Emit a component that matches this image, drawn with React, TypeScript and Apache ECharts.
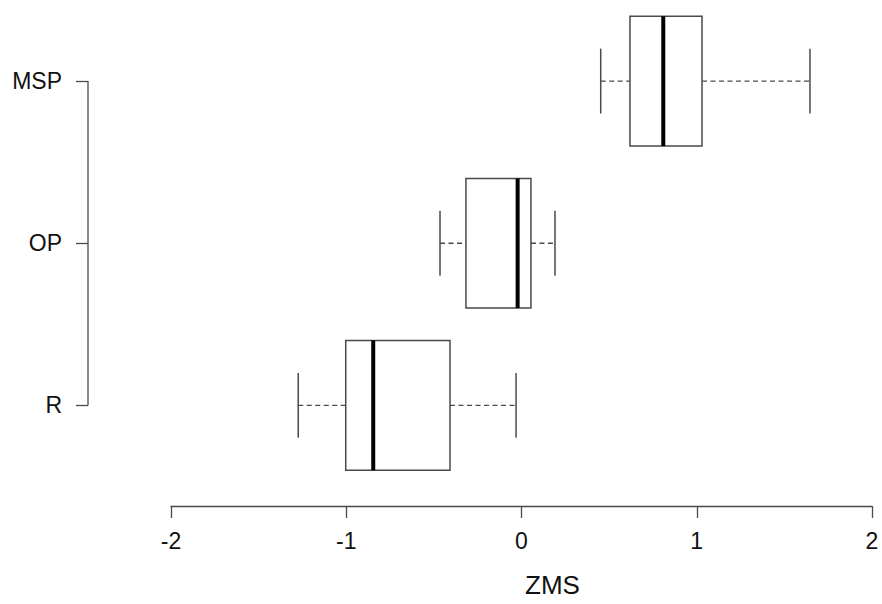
import React, { useEffect, useRef } from "react";
import * as echarts from "echarts";

const categories = ["R", "OP", "MSP"];
const lowerWhisker = [-1.274, -0.465, 0.452];
const q1 = [-1.003, -0.317, 0.619];
const median = [-0.846, -0.022, 0.809];
const q3 = [-0.408, 0.054, 1.03];
const upperWhisker = [-0.031, 0.191, 1.646];
const xTicks = [-2, -1, 0, 1, 2];
const xTitle = "ZMS";

const FONT = '"Liberation Sans", Arial, Helvetica, sans-serif';
const Y_AXIS_OFFSET = 83;

export default function App() {
  const ref = useRef<HTMLDivElement>(null);
  useEffect(() => {
    if (!ref.current) return;
    const chart = echarts.init(ref.current, null, { renderer: "svg" });
    const boxData = categories.map((_, i) => [
      i,
      lowerWhisker[i],
      q1[i],
      median[i],
      q3[i],
      upperWhisker[i],
    ]);
    const stroke = "#4a4a4a";
    chart.setOption({
      animation: false,
      backgroundColor: "#ffffff",
      grid: { left: 171, right: 10, top: -2.5, bottom: 117.5, containLabel: false },
      xAxis: {
        type: "value",
        min: xTicks[0],
        max: xTicks[xTicks.length - 1],
        interval: 1,
        offset: 19.5,
        splitLine: { show: false },
        axisLine: { show: true, onZero: false, lineStyle: { color: stroke, width: 1.3 } },
        axisTick: { show: true, length: 12, lineStyle: { color: stroke, width: 1.3 } },
        axisLabel: { fontSize: 23, color: "#111", margin: 23, fontFamily: FONT },
        name: xTitle,
        nameLocation: "middle",
        nameGap: 66,
        nameTextStyle: { fontSize: 26, color: "#111", fontFamily: FONT, padding: [0, 0, 0, 62] },
      },
      yAxis: {
        type: "category",
        data: categories,
        offset: Y_AXIS_OFFSET,
        axisLine: { show: false, onZero: false },
        axisTick: { show: true, alignWithLabel: true, length: 12, lineStyle: { color: stroke, width: 1.3 } },
        axisLabel: { fontSize: 23, color: "#111", margin: 26, fontFamily: FONT },
        splitLine: { show: false },
      },
      series: [
        {
          type: "custom",
          clip: false,
          data: [[-2, 0, categories.length - 1]],
          encode: { x: 0, y: 1 },
          renderItem: (params: any, api: any) => {
            const top = api.coord([api.value(0), api.value(2)]);
            const bot = api.coord([api.value(0), api.value(1)]);
            const x = top[0] - Y_AXIS_OFFSET;
            return {
              type: "line",
              shape: { x1: x, y1: top[1], x2: x, y2: bot[1] },
              style: { stroke, lineWidth: 1.3 },
            };
          },
        },
        {
          type: "custom",
          clip: false,
          data: boxData,
          encode: { x: [1, 2, 3, 4, 5], y: 0 },
          renderItem: (params: any, api: any) => {
            const c = api.value(0);
            const pLow = api.coord([api.value(1), c]);
            const pQ1 = api.coord([api.value(2), c]);
            const pMed = api.coord([api.value(3), c]);
            const pQ3 = api.coord([api.value(4), c]);
            const pHigh = api.coord([api.value(5), c]);
            const band = api.size([0, 1])[1];
            const y = pLow[1];
            const bh = band * 0.4;
            const ch = band * 0.2;
            const dash = { stroke, lineWidth: 1.3, lineDash: [5, 3.5] };
            const solid = { stroke, lineWidth: 1.5 };
            return {
              type: "group",
              children: [
                { type: "line", shape: { x1: pLow[0], y1: y, x2: pQ1[0], y2: y }, style: dash },
                { type: "line", shape: { x1: pQ3[0], y1: y, x2: pHigh[0], y2: y }, style: dash },
                { type: "line", shape: { x1: pLow[0], y1: y - ch, x2: pLow[0], y2: y + ch }, style: solid },
                { type: "line", shape: { x1: pHigh[0], y1: y - ch, x2: pHigh[0], y2: y + ch }, style: solid },
                {
                  type: "rect",
                  shape: { x: pQ1[0], y: y - bh, width: pQ3[0] - pQ1[0], height: 2 * bh },
                  style: { fill: "#ffffff", stroke, lineWidth: 1.5 },
                },
                {
                  type: "line",
                  shape: { x1: pMed[0], y1: y - bh, x2: pMed[0], y2: y + bh },
                  style: { stroke: "#000", lineWidth: 4 },
                },
              ],
            };
          },
        },
      ],
    });
    return () => chart.dispose();
  }, []);
  return (
    <div
      ref={ref}
      style={{ position: "fixed", left: 0, top: 0, width: 882, height: 604, background: "#fff" }}
    />
  );
}
